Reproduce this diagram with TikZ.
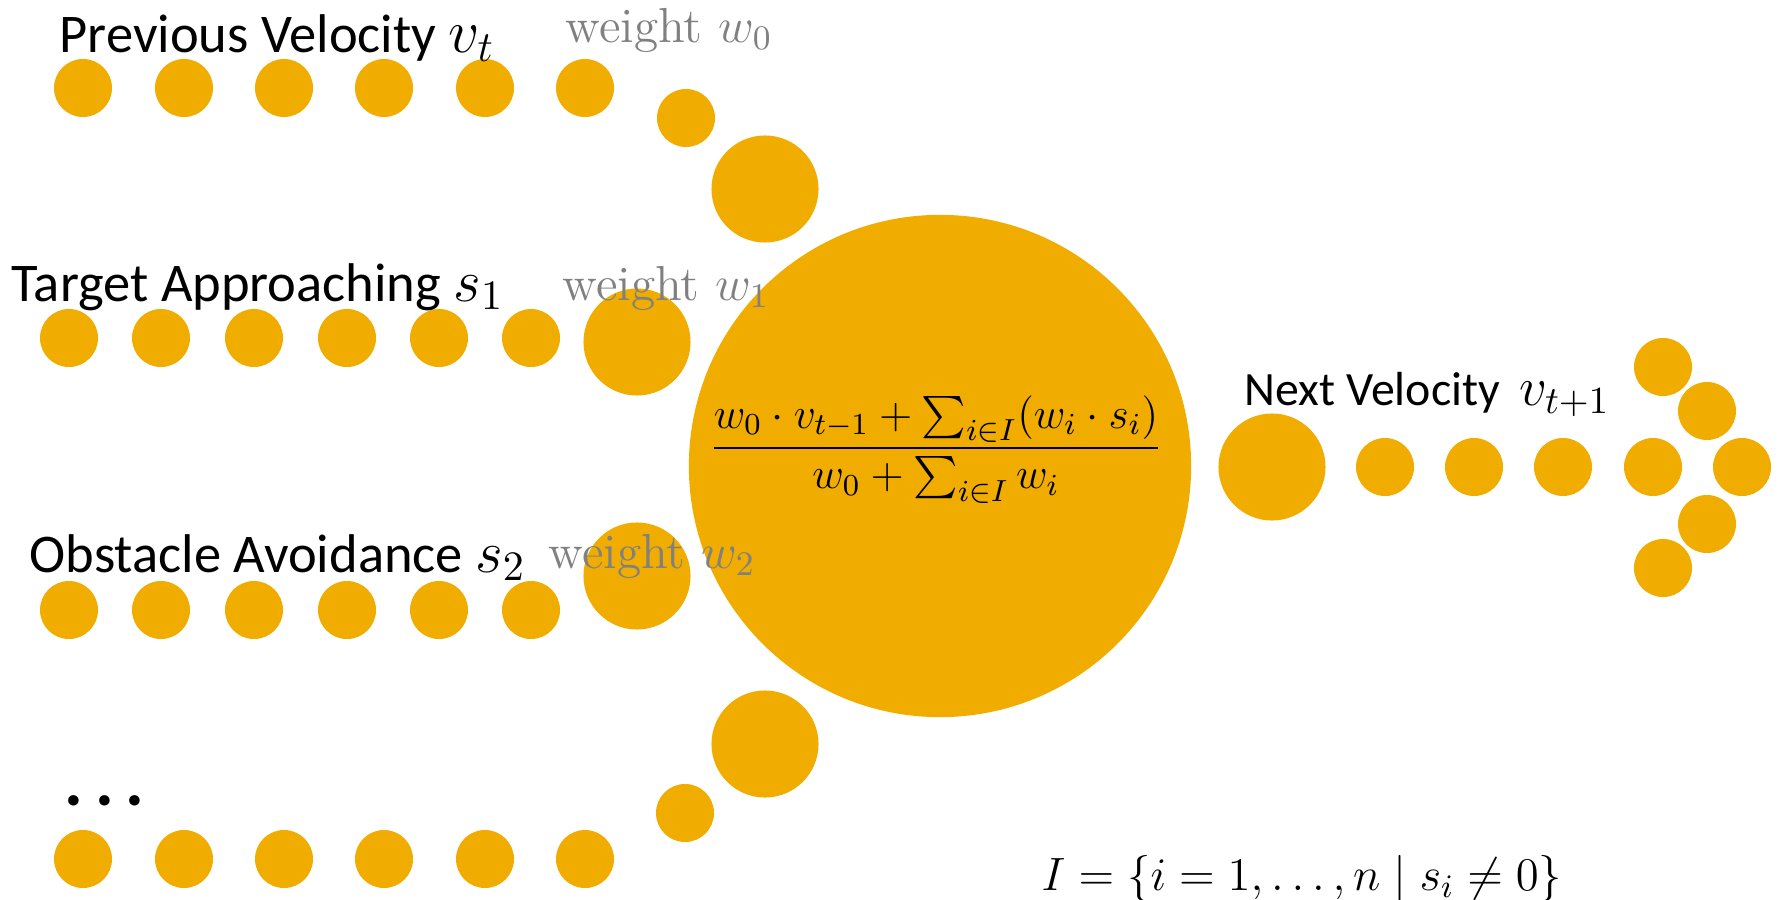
\RequirePackage{fix-cm}
\documentclass[tikz,border=0pt]{standalone}
\usepackage{amsmath}
\usepackage{fontspec}
\setsansfont{Carlito}
\usepackage{tikz}
\definecolor{gold}{RGB}{240,173,0}
\definecolor{wgray}{RGB}{128,128,128}
\newcommand{\labmath}[2][17]{{\fontsize{#1}{18}\selectfont$#2$}}

\begin{document}
\begin{tikzpicture}[x=0.01cm,y=-0.01cm]

        \tikzset{dot/.style = {shape=circle,fill=gold,inner sep=0pt,minimum size=5.8mm}}
        \tikzset{bigdot/.style = {dot,minimum size=10.7mm}}
        \tikzset{hub/.style = {dot,minimum size=50.2mm}}
        \tikzset{rowtext/.style = {anchor=base west,inner sep=0pt,font=\sffamily\fontsize{15.5}{18}\selectfont}}
        \tikzset{wtext/.style = {anchor=base west,inner sep=0pt,text=wgray,font=\rmfamily\fontsize{14}{16}\selectfont}}

        \useasboundingbox (0,0) rectangle (1778,900);

        \foreach \x [count=\i] in {83,184,284,384,485,585}
            \node[dot] (v\i) at (\x,88) {};
        \node[dot] (v7) at (686,118) {};
        \node[bigdot] (v8) at (765,189) {};

        \foreach \x [count=\i] in {69,161,254,347,439,531}
            \node[dot] (t\i) at (\x,338) {};
        \node[bigdot] (t7) at (637,342) {};

        \foreach \x [count=\i] in {69,161,254,347,439,531}
            \node[dot] (o\i) at (\x,610) {};
        \node[bigdot] (o7) at (637,576) {};

        \foreach \x [count=\i] in {83,184,284,384,485,585}
            \node[dot] (m\i) at (\x,859) {};
        \node[dot] (m7) at (685,813) {};
        \node[bigdot] (m8) at (765,744) {};

        \node[hub] (hub) at (940,466) {};

        \node[bigdot] (n0) at (1272,467) {};
        \foreach \x [count=\i] in {1385,1474,1563,1653,1742}
            \node[dot] (n\i) at (\x,467) {};
        \node[dot] (a1) at (1663,367) {};
        \node[dot] (a2) at (1707,411) {};
        \node[dot] (a3) at (1707,524) {};
        \node[dot] (a4) at (1663,568) {};

        \node[rowtext] (prev) at (59,52) {Previous Velocity \labmath[17.5]{v_t}};
        \node[wtext] (w0) at (565,42) {weight $w_0$};
        \node[rowtext] (target) at (11,301) {Target Approaching \labmath{s_1}};
        \node[wtext] (w1) at (562,300) {weight $w_1$};
        \node[rowtext] (obst) at (29,572) {Obstacle Avoidance \labmath{s_2}};
        \node[wtext] (w2) at (548,568) {weight $w_2$};
        \node[rowtext,font=\sffamily\bfseries\fontsize{20}{24}\selectfont] (more) at (64,805) {.\,.\,.};
        \node[rowtext,font=\sffamily\fontsize{13.6}{16}\selectfont] (next) at (1244,405) {Next Velocity\hspace{0.4em}\labmath[15.6]{v_{t+1}}};

        \node[anchor=base,inner sep=0pt,font=\fontsize{12.4}{16}\selectfont] (rule) at (936,459)
            {$\dfrac{w_0\cdot v_{t-1}+\sum_{i\in I}(w_i\cdot s_i)}{w_0+\sum_{i\in I}w_i}$};
        \node[anchor=base west,inner sep=0pt,font=\fontsize{13.3}{16}\selectfont] (iset) at (1041,890)
            {$I = \{i=1,\ldots,n \mid s_i \neq 0\}$};

\end{tikzpicture}
\end{document}
